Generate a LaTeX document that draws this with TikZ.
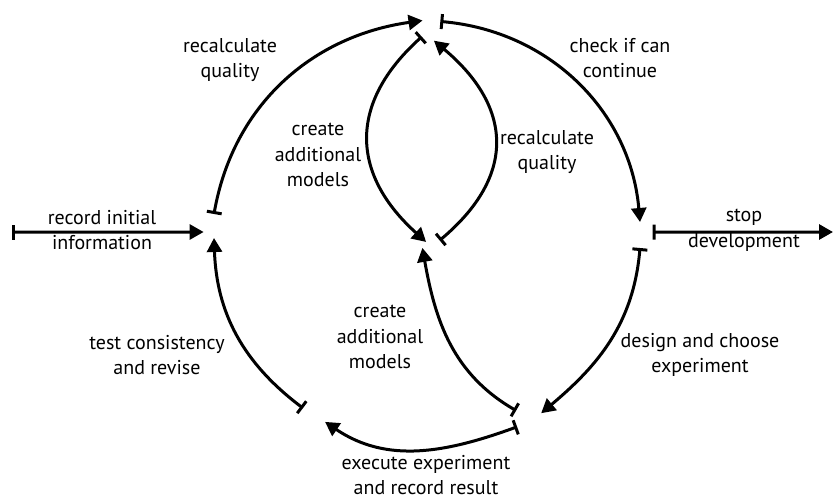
\documentclass[tikz,border=0pt]{standalone}
\usepackage{fontspec}
\setmainfont{PT Sans}
\usetikzlibrary{arrows.meta}
\begin{document}
\begin{tikzpicture}[x=0.5pt,y=0.5pt,
  state/.style={circle,draw=none,inner sep=0pt,outer sep=0pt,minimum size=#1},
  state/.default=12pt,
  conn/.style={line width=1.5pt,{Bar[width=7.5pt,line width=1.5pt]}-{Triangle[length=7pt,width=7.5pt]}},
  lbl/.style={align=center,inner sep=0pt,font=\fontsize{10}{12.8}\selectfont}]
\useasboundingbox (0,0) rectangle (834,499);
% states
\node[state=12pt] (L) at (214,273) {};
\node[state=12pt] (T) at (431,470) {};
\node[state=13pt] (R) at (640,264) {};
\node[state=14pt] (BR) at (528,81) {};
\node[state=13pt] (BL) at (314,84) {};
\node[state=12pt] (C) at (434,248) {};
\coordinate (S) at (12,267);
\coordinate (E) at (833,267);
% connectors
\draw[conn] (S) -- (L.210);
\draw[conn] (L.90) to[out=80,in=188] (T.135);
\draw[conn] (T.39) to[out=-5,in=95] (R.90);
\draw[conn] (R.13) -- (E);
\draw[conn] (R.270) to[out=265,in=40] (BR.20);
\draw[conn] (BR.219) to[out=200,in=-34] (BL.328);
\draw[conn] (BL.148) to[out=143,in=-88] (L.270);
\draw[conn] (BR.148) to[out=150,in=-80] (C.165);
\draw[conn] (C.62) to[out=40,in=-40,looseness=1.3] (T.284);
\draw[conn] (T.220) to[out=222,in=138,looseness=1.25] (C.131);
% labels
\node[lbl] (l1) at (102,269) {record initial\\information};
\node[lbl] (l2) at (230,439) {recalculate\\quality};
\node[lbl] (l3) at (620,441) {check if can\\continue};
\node[lbl] (l4) at (318,344) {create\\additional\\models};
\node[lbl] (l5) at (547,347) {recalculate\\quality};
\node[lbl] (l6) at (744,269) {stop\\development};
\node[lbl] (l7) at (700,144) {design and choose\\experiment};
\node[lbl] (l8) at (157,144) {test consistency\\and revise};
\node[lbl] (l9) at (380,162) {create\\additional\\models};
\node[lbl] (l10) at (426,24) {execute experiment\\and record result};
\end{tikzpicture}
\end{document}
